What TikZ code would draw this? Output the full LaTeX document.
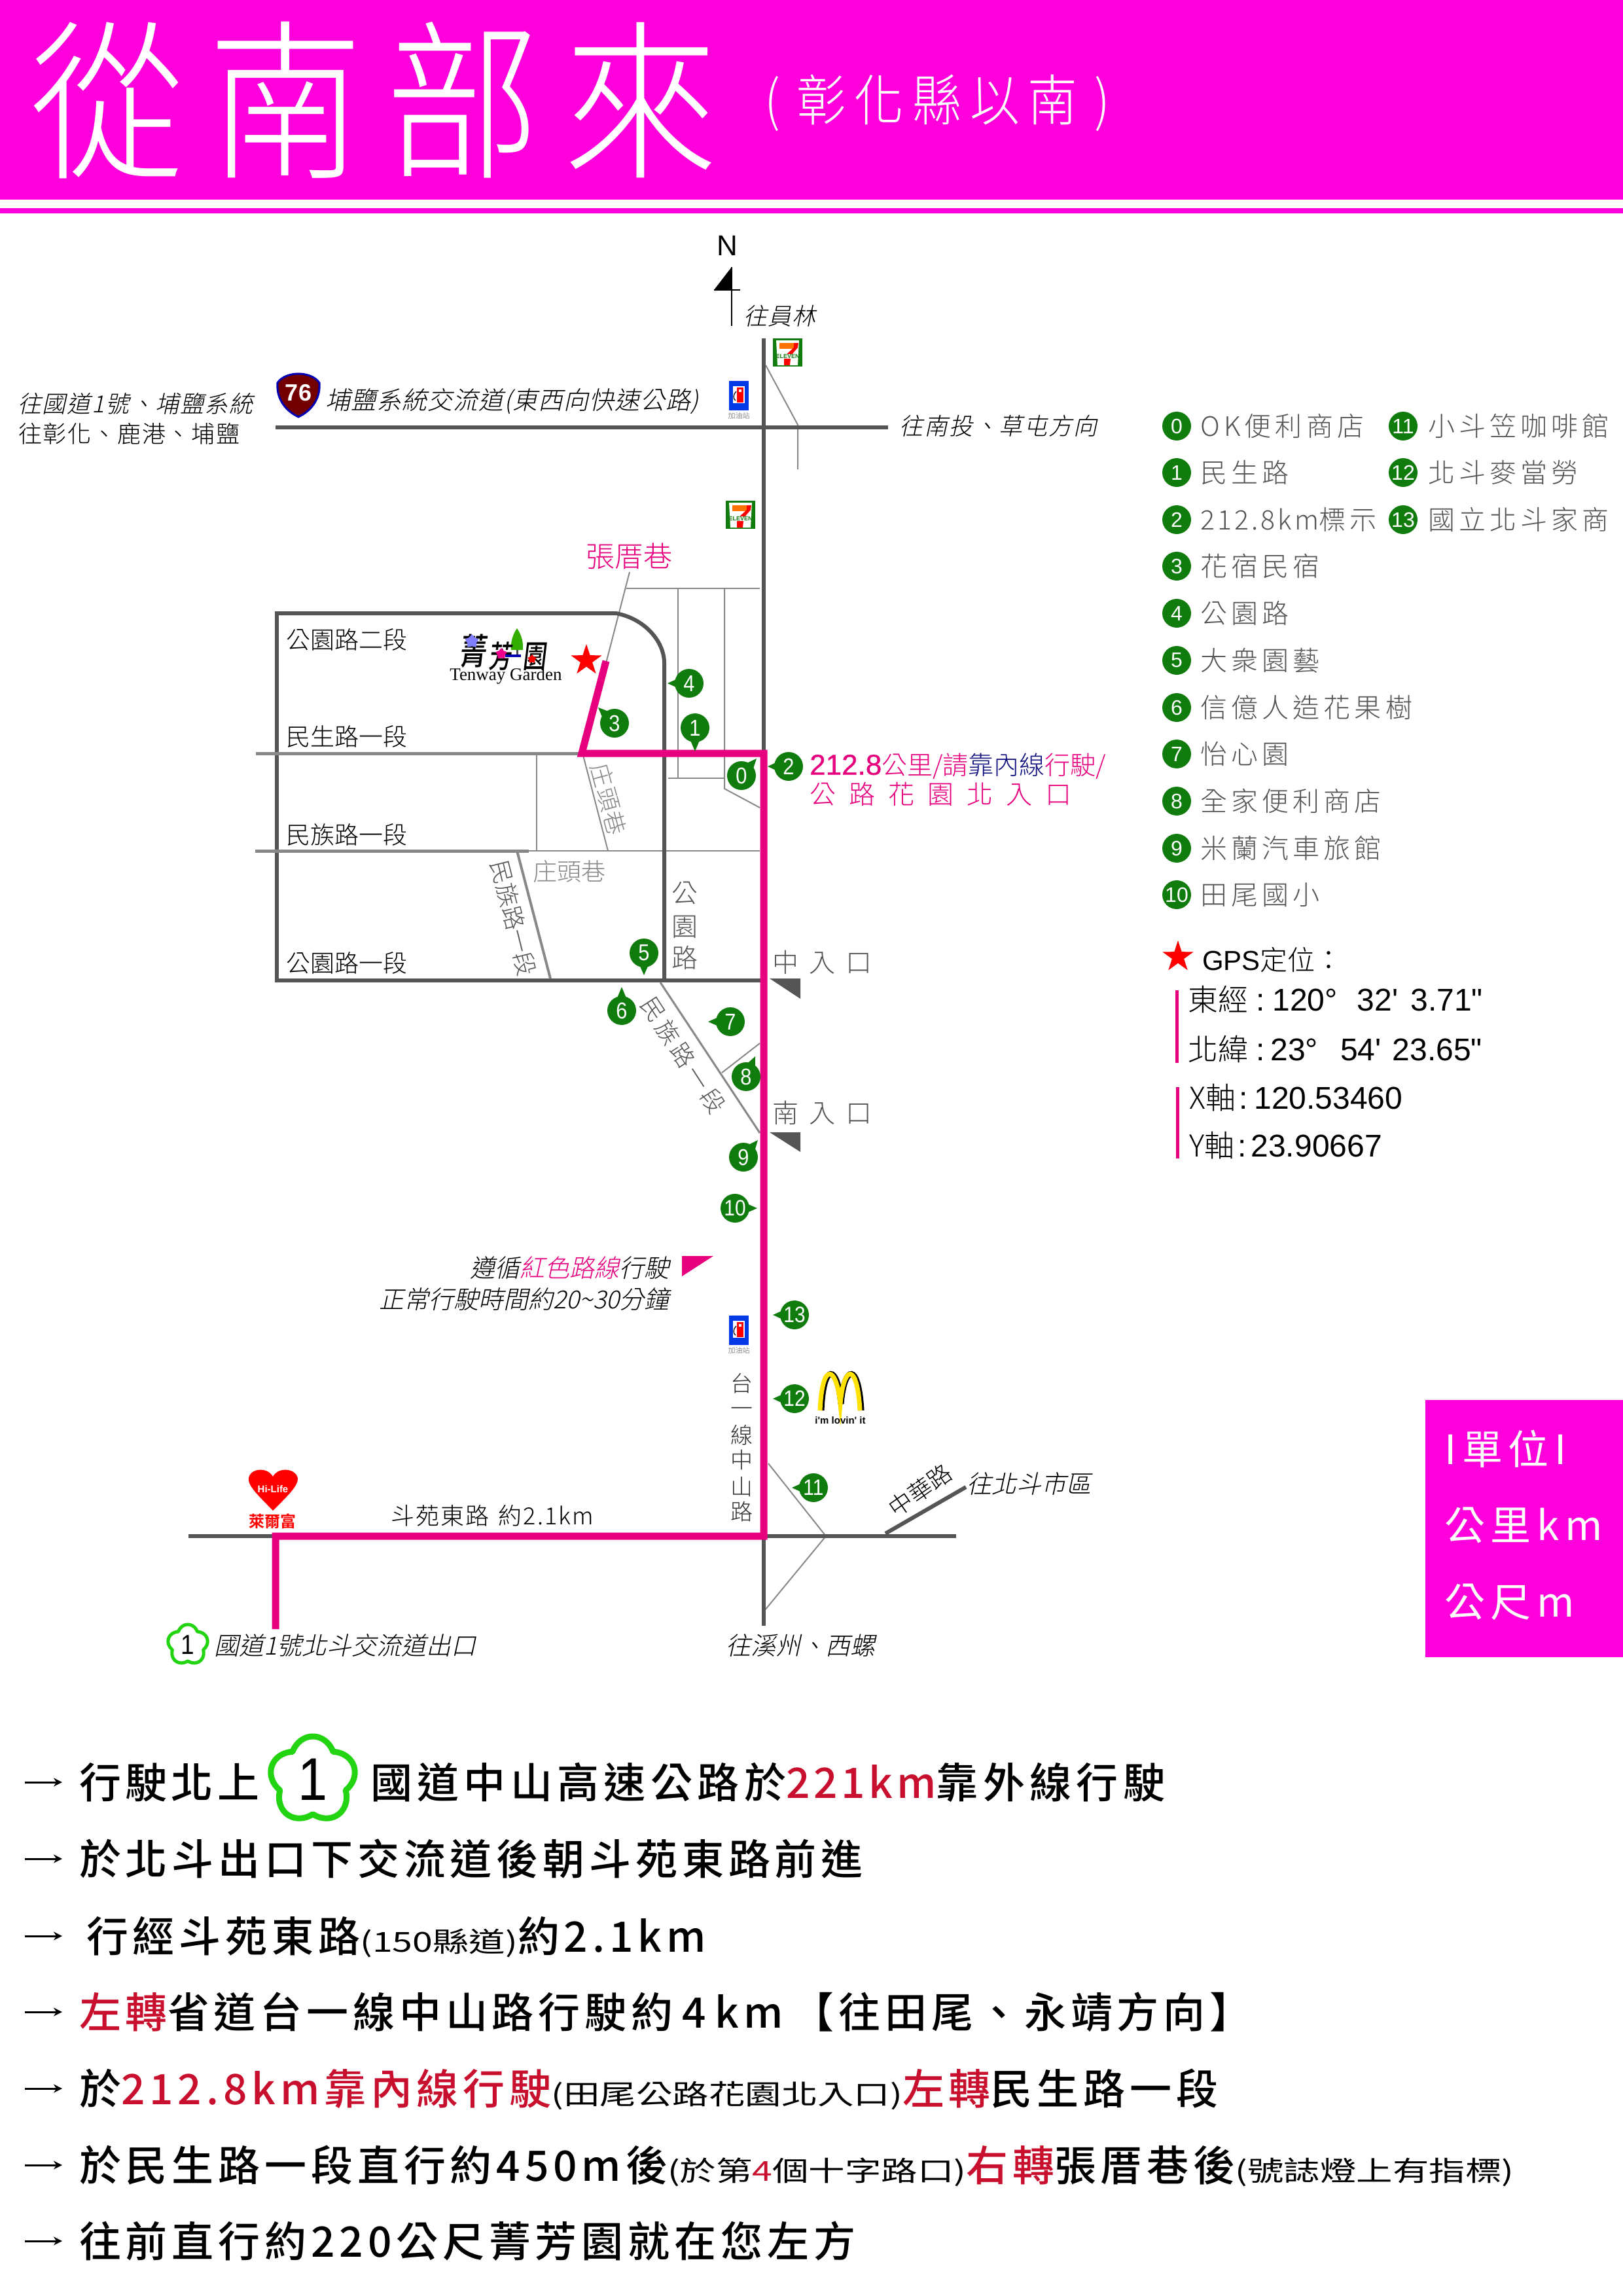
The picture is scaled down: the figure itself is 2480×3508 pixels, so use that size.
\documentclass[tikz,border=0pt]{standalone}
\usepackage{fontspec}
\usetikzlibrary{calc,arrows.meta,shapes.geometric}
\newfontfamily\cjk{Noto Sans CJK TC}
\newfontfamily\cjkl{Noto Sans CJK TC Light}
\newfontfamily\cjkm{Noto Sans CJK TC Medium}
\newfontfamily\cjkb{Noto Sans CJK TC Bold}
\newfontfamily\cjki[FakeSlant=0.22]{Noto Sans CJK TC Light}
\newfontfamily\cjktitle[FakeStretch=0.9]{Noto Sans CJK TC Light}
\newfontfamily\cjksm[FakeStretch=1.32]{Noto Sans CJK TC}
\newfontfamily\cjklogo[FakeSlant=0.12,FakeStretch=0.75]{Noto Sans CJK TC Medium}
\newfontfamily\lsans{Liberation Sans}
\newfontfamily\lsansn[FakeStretch=0.88]{Liberation Sans}
\newfontfamily\lsansh[FakeBold=0.7]{Liberation Sans}
\newfontfamily\lserif{Liberation Serif}
\definecolor{banner}{HTML}{FF00DC}
\definecolor{route}{HTML}{E6007E}
\definecolor{road}{HTML}{555555}
\definecolor{roadb}{HTML}{888888}
\definecolor{pingreen}{HTML}{117C0E}
\definecolor{bodyred}{HTML}{C8102E}
\definecolor{navyb}{HTML}{10107F}
\definecolor{plumg}{HTML}{22D411}
\definecolor{legtext}{HTML}{555555}
\newcommand\lsp[1]{\addfontfeature{LetterSpace=#1}}
\newcounter{tn}
\newcommand\tx[5][]{\stepcounter{tn}\node[txt,text height=0.76*#4pt,text depth=0pt,#1] (t\arabic{tn}) at (#2,#3) {\fontsize{#4pt}{#4pt}\selectfont #5};}
\newcommand\sm[1]{{\fontsize{42pt}{42pt}\selectfont\cjksm #1}}
\newcommand\pin[6]{\node[pinnode] (#1) at (#2,#3) {};\coordinate (#1t) at (#4,#5);
 \fill[pingreen] (#1t) -- ($(#1)!15pt!90:(#1t)$) -- ($(#1)!15pt!-90:(#1t)$) -- cycle;
 \node[pinlabel] (#1l) at (#2,#3) {#6};}
\newcommand\badge[4]{\node[pinnode,text=white,font=\lsans\fontsize{32pt}{32pt}\selectfont] (#1) at (#2,#3) {#4};}
\newcommand\plum[6]{\draw[draw=plumg,fill=white,line width=#5pt,line join=round] plot[domain=0:360,samples=121,smooth] ({#2+#4*(0.80+0.20*abs(cos(2.5*\x)))*sin(\x)},{#3-#4*(0.80+0.20*abs(cos(2.5*\x)))*cos(\x)}) -- cycle;
 \node[inner sep=0pt,font=\lsansn\fontsize{#6pt}{#6pt}\selectfont] (#1) at (#2,#3) {1};}
\newcommand\seven[3]{\begin{scope}[shift={(#2,#3)}]
 \fill[pingreen] (0,0) rectangle (45,43);
 \fill[white] (5,3) -- (40,3) -- (38,41) -- (7,41) -- cycle;
 \fill[orange!90!red] (10,7) rectangle (32,16);
 \fill[red] (32,7) -- (39,7) -- (38,14) -- (27,27) -- (18,27) -- (32,14) -- cycle;
 \fill[white] (8,24) rectangle (37,31);
 \fill[red] (17,31) -- (27,31) -- (26,41) -- (17,41) -- cycle;
 \node[inner sep=0pt,text=pingreen,font=\lsans\bfseries\fontsize{9pt}{9pt}\selectfont] (#1) at (22.5,27.5) {ELEVEN};
 \end{scope}}
\newcommand\gas[3]{\begin{scope}[shift={(#2,#3)}]
 \fill[blue!75!cyan!90!black] (0,0) rectangle (30,45);
 \fill[white] (6,8) rectangle (24,34);
 \fill[red] (12,10) rectangle (22,33);
 \fill[white] (15,13) rectangle (19,17);
 \draw[black,line width=1.2pt] (11,16) .. controls (6,20) and (6,28) .. (10,30);
 \node[inner sep=0pt,text=road,font=\cjkl\fontsize{11pt}{11pt}\selectfont] (#1) at (15,53) {加油站};
 \end{scope}}
\tikzset{
 txt/.style={inner sep=0pt,anchor=west},
 pinnode/.style={circle,fill=pingreen,minimum size=44pt,inner sep=0pt},
 pinlabel/.style={text=white,inner sep=0pt,font=\lsansn\fontsize{35pt}{35pt}\selectfont},
 roadl/.style={draw=road,line width=6pt},
 roadm/.style={draw=roadb,line width=5pt},
 thinl/.style={draw=roadb,line width=2pt},
 routel/.style={draw=route,line width=11pt,line join=miter},
 gotri/.style={fill=road},
 stepa/.style={-{Stealth[length=13pt,width=13pt]},line width=3pt,black},
}
\begin{document}
\begin{tikzpicture}[x=1pt,y=-1pt]
\useasboundingbox (0,0) rectangle (2480,3508);
% banner
\fill[banner] (0,0) rectangle (2480,305);
\fill[banner] (0,318) rectangle (2480,326);
\tx[anchor=center,text=white]{572}{153}{262}{\cjktitle\lsp{13.7}從南部來}
\tx[anchor=center,text=white]{1432}{153}{84}{\cjktitle\lsp{15}(\hspace{26pt}彰化縣以南\hspace{26pt})}
% thin lines
\draw[thinl] (1170,558) -- (1219,649) -- (1219,717);
\draw[thinl] (962,874) -- (926,1013);
\draw[thinl] (957,899) -- (1161,899);
\draw[thinl] (1036,899) -- (1036,1189);
\draw[thinl] (1107,899) -- (1107,1205) -- (1161,1234);
\draw[thinl] (1021,1189) -- (1107,1189);
\draw[thinl] (820,1151) -- (820,1300);
\draw[thinl] (891,1154) -- (929,1300);
\draw[thinl] (808,1300) -- (1161,1300);
\draw[thinl] (1103,1639) -- (1161,1594);
\draw[thinl] (1174,2236) -- (1262,2347) -- (1168,2461);
% roads
\draw[roadl] (421,653) -- (1357,653);
\draw[roadl] (1167,517) -- (1167,1151);
\draw[roadl] (423,937) -- (941,937) .. controls (985,945) and (1015,980) .. (1015,1013) -- (1015,1498);
\draw[roadl] (423,934) -- (423,1501);
\draw[roadl] (420,1498) -- (1167,1498);
\draw[roadm] (391,1151) -- (886,1151);
\draw[roadm] (390,1300) -- (808,1300);
\draw[draw=roadb,line width=4pt] (790,1300) -- (841,1495);
\draw[draw=roadb,line width=3pt] (1009,1501) -- (1161,1731);
\draw[roadl] (288,2347) -- (1461,2347);
\draw[roadl] (1167,2347) -- (1167,2484);
\draw[roadl] (1353,2343) -- (1476,2272);
% route
\draw[routel] (926,1010) -- (889,1151) -- (1167,1151) -- (1167,2347) -- (421,2347) -- (421,2489);
% north arrow
\tx[anchor=center,text=black]{1111}{374}{44}{\lsans N}
\fill[black] (1118,408) -- (1091,443) -- (1118,443) -- cycle;
\draw[line width=2pt] (1091,443) -- (1131,443);
\draw[line width=2pt] (1118,408) -- (1118,498);
% logos
\seven{se1}{1181}{517}
\seven{se2}{1109}{765}
\gas{g1}{1114}{582}
\gas{g2}{1114}{2010}
% shield 76
\draw[draw=blue!70!black,fill=red!45!black,line width=3pt] (424,585) .. controls (430,575) and (445,571) .. (456,571) .. controls (467,571) and (482,575) .. (488,585) .. controls (490,610) and (475,628) .. (456,637) .. controls (437,628) and (422,610) .. (424,585) -- cycle;
\node[inner sep=0pt,text=white,font=\lsans\bfseries\fontsize{36pt}{36pt}\selectfont] (s76) at (456,600) {76};
% map labels
\tx{497}{611}{38}{\cjki\lsp{2.6}埔鹽系統交流道(東西向快速公路)}
\tx{1136}{483}{36}{\cjki\lsp{3}往員林}
\tx{27}{617}{36}{\cjki\lsp{5}往國道1號、埔鹽系統}
\tx{28}{663}{36}{\cjkl\lsp{5}往彰化、鹿港、埔鹽}
\tx{1374}{651}{36}{\cjki\lsp{5.5}往南投、草屯方向}
\tx[text=route]{895}{850}{44}{\cjkl 張厝巷}
\tx{437}{977}{37}{\cjkl 公園路二段}
\tx{437}{1125}{37}{\cjkl 民生路一段}
\tx{437}{1275}{37}{\cjkl 民族路一段}
\tx{437}{1471}{37}{\cjkl 公園路一段}
\tx[anchor=center,rotate=-75,text=roadb]{930}{1221}{36}{\cjkl\lsp{5}庄頭巷}
\tx[text=roadb]{814}{1331}{37}{\cjkl 庄頭巷}
\tx[anchor=center,rotate=-76,text=road]{785}{1403}{36}{\cjkl 民族路一段}
\tx[anchor=center,text=road]{1046}{1364}{40}{\cjkl 公}
\tx[anchor=center,text=road]{1046}{1415}{40}{\cjkl 園}
\tx[anchor=center,text=road]{1046}{1463}{40}{\cjkl 路}
\tx[anchor=center,rotate=-57,text=road]{1044}{1612}{36}{\cjkl\lsp{16}民族路一段}
\tx[anchor=center,text=road]{1200}{1470}{40}{\cjkl 中}
\tx[anchor=center,text=road]{1256}{1470}{40}{\cjkl 入}
\tx[anchor=center,text=road]{1312}{1470}{40}{\cjkl 口}
\tx[anchor=center,text=road]{1200}{1700}{40}{\cjkl 南}
\tx[anchor=center,text=road]{1256}{1700}{40}{\cjkl 入}
\tx[anchor=center,text=road]{1312}{1700}{40}{\cjkl 口}
\fill[gotri] (1176,1495) -- (1223,1495) -- (1223,1526) -- cycle;
\fill[gotri] (1176,1730) -- (1223,1730) -- (1223,1760) -- cycle;
\tx{1237}{1167}{44}{\textcolor{route}{\lsansh 212.8{\fontsize{39pt}{39pt}\selectfont\cjkl 公里/請}}\textcolor{navyb}{\fontsize{39pt}{39pt}\selectfont\cjkl 靠內線}\textcolor{route}{\fontsize{39pt}{39pt}\selectfont\cjkl 行駛/}}
\tx[text=route]{1237}{1213}{40}{\cjkl\lsp{50}公路花園北入口}
% logo Tenway
\fill[green!60!black!80!yellow] (790,960) .. controls (797,970) and (800,982) .. (799,993) -- (781,993) .. controls (780,982) and (783,970) .. (790,960) -- cycle;
\fill[black!70] (789,993) rectangle (792,1003);
\tx[anchor=center]{722}{995}{55}{\cjklogo 菁}
\tx[anchor=center]{764}{1003}{47}{\cjklogo 芳}
\tx[anchor=center]{816}{1002}{48}{\cjklogo 園}
\node[star,fill=blue!50,minimum size=22pt,inner sep=0pt] (lgs) at (721,980) {};
\node[star,fill=magenta,minimum size=18pt,inner sep=0pt] (lgm) at (766,999) {};
\node[star,fill=red,minimum size=14pt,inner sep=0pt] (lgr) at (813,1007) {};
\fill[blue!70!black] (772,1000) rectangle (796,1004);
\node[inner sep=0pt,font=\lserif\fontsize{27pt}{27pt}\selectfont] (lgt) at (773,1033) {Tenway Garden};
% star
\node[star,star points=5,star point ratio=2.6,fill=red,minimum size=50pt,inner sep=0pt] (st1) at (896,1009) {};
% pins
\pin{p0}{1133}{1185}{1156}{1159}{0}
\pin{p1}{1062}{1112}{1062}{1148}{1}
\pin{p2}{1205}{1171}{1173}{1171}{2}
\pin{p3}{939}{1105}{914}{1081}{3}
\pin{p4}{1053}{1044}{1020}{1044}{4}
\pin{p5}{984}{1456}{984}{1490}{5}
\pin{p6}{950}{1544}{950}{1508}{6}
\pin{p7}{1116}{1561}{1082}{1561}{7}
\pin{p8}{1140}{1645}{1154}{1614}{8}
\pin{p9}{1136}{1768}{1158}{1742}{9}
\pin{p10}{1123}{1846}{1157}{1846}{\fontsize{34pt}{34pt}\selectfont 10}
\pin{p13}{1214}{2009}{1181}{2009}{\fontsize{34pt}{34pt}\selectfont 13}
\pin{p12}{1214}{2137}{1181}{2137}{\fontsize{34pt}{34pt}\selectfont 12}
\pin{p11}{1243}{2273}{1210}{2273}{\fontsize{34pt}{34pt}\selectfont 11}
% lower map labels
\tx[anchor=east]{1023}{1937}{38}{\cjki 遵循\textcolor{route}{紅色路線}行駛}
\tx[anchor=east]{1023}{1985}{38}{\cjki 正常行駛時間約20\char"007E 30分鐘}
\fill[route] (1042,1919) -- (1090,1919) -- (1042,1950) -- cycle;
\foreach \c/\y in {台/2114,一/2152,線/2193,中/2231,山/2272,路/2310}{\tx[anchor=center,text=black!80]{1133}{\y}{34}{\cjkl \c}}
\tx{597}{2316}{36}{\cjkl\lsp{6}斗苑東路\hspace{14pt}約2.1km}
\tx[anchor=center,rotate=35]{1406}{2277}{36}{\cjkl 中華路}
\tx{1477}{2267}{38}{\cjki 往北斗市區}
\tx{327}{2514}{38}{\cjki 國道1號北斗交流道出口}
\tx{1109}{2514}{38}{\cjki 往溪州、西螺}
\plum{sh1}{287}{2513}{31}{5}{42}
% McDonald
\draw[black,line width=9pt] (1255,2155) .. controls (1258,2080) and (1280,2085) .. (1285,2145) .. controls (1290,2085) and (1312,2080) .. (1316,2155);
\draw[yellow!85!orange,line width=7pt] (1253,2155) .. controls (1256,2080) and (1278,2085) .. (1284,2145) .. controls (1289,2085) and (1310,2080) .. (1314,2155);
\node[inner sep=0pt,font=\lsans\bfseries\fontsize{15pt}{15pt}\selectfont] (mc) at (1284,2170) {i'm lovin' it};
% Hi-Life
\fill[red] (417,2308) .. controls (395,2285) and (378,2270) .. (380,2258) .. controls (382,2244) and (408,2240) .. (417,2256) .. controls (426,2240) and (452,2244) .. (455,2258) .. controls (456,2270) and (440,2285) .. (417,2308) -- cycle;
\node[inner sep=0pt,text=white,font=\lsans\bfseries\fontsize{15pt}{15pt}\selectfont] (hl) at (417,2275) {Hi-Life};
\tx[anchor=center,text=red]{416}{2324}{24}{\cjkb 萊爾富}
% legend
\foreach \n/\y/\t in {0/651/OK便利商店,1/722/民生路,2/794/{\lsp{10}212.8km}標示,3/865/花宿民宿,4/937/公園路,5/1009/大衆園藝,6/1081/信億人造花果樹,7/1152/怡心園,8/1224/全家便利商店,9/1296/米蘭汽車旅館,10/1367/田尾國小}{
 \badge{b\n}{1798}{\y}{\n}
 \tx[text=legtext]{1834}{\y}{41}{\cjkl\lsp{15}\t}}
\foreach \n/\y/\t in {11/651/小斗笠咖啡館,12/722/北斗麥當勞,13/794/國立北斗家商}{
 \badge{b\n}{2144}{\y}{\n}
 \tx[text=legtext]{2182}{\y}{41}{\cjkl\lsp{15}\t}}
% GPS
\node[star,star points=5,star point ratio=2.6,fill=red,minimum size=50pt,inner sep=0pt] (st2) at (1800,1462) {};
\tx{1837}{1467}{42}{\lsans GPS\cjkl 定位：}
\draw[draw=route,line width=5pt] (1798.5,1513) -- (1798.5,1624);
\draw[draw=route,line width=5pt] (1799.5,1661) -- (1799.5,1770);
\tx{1815}{1527}{46}{\cjkl 東經\hspace{12pt}\fontsize{48pt}{48pt}\selectfont\lsans :\hspace{12pt}120°\hspace{30pt}32'\hspace{19pt}3.71"}
\tx{1815}{1603}{46}{\cjkl 北緯\hspace{12pt}\fontsize{48pt}{48pt}\selectfont\lsans :\hspace{9pt}23°\hspace{34pt}54'\hspace{17pt}23.65"}
\tx{1817}{1677}{46}{\cjkl X軸\hspace{5pt}\fontsize{48pt}{48pt}\selectfont\lsans :\hspace{10pt}120.53460}
\tx{1817}{1750}{46}{\cjkl Y軸\hspace{5pt}\fontsize{48pt}{48pt}\selectfont\lsans :\hspace{7pt}23.90667}
% unit box
\fill[banner] (2178,2139) rectangle (2480,2532);
\tx[text=white]{2207}{2214}{62}{\cjk\lsp{14}I單位I}
\tx[text=white]{2207}{2330}{62}{\cjk\lsp{14}公里km}
\tx[text=white]{2207}{2447}{62}{\cjk\lsp{14}公尺m}
% directions
\foreach \n/\y in {a/2723,b/2840,c/2958,d/3074,e/3191,f/3308,g/3424}{
 \coordinate (sa\n) at (38,\y);\coordinate (sb\n) at (95,\y);\draw[stepa] (sa\n) -- (sb\n);}
\tx{121}{2723}{64}{\cjkm\lsp{10}行駛北上}
\plum{sh2}{478}{2719}{66}{9}{92}
\tx{566}{2723}{64}{\cjkm\lsp{11.5}國道中山高速公路於\textcolor{bodyred}{\lsp{9}221km}靠外線行駛}
\tx{121}{2840}{64}{\cjkm\lsp{10.7}於北斗出口下交流道後朝斗苑東路前進}
\tx{132}{2958}{64}{\cjkm\lsp{10.7}行經斗苑東路\sm{(150縣道)}約2.1km}
\tx{121}{3074}{64}{\cjkm\lsp{10.7}\textcolor{bodyred}{左轉}省道台一線中山路行駛約\hspace{14pt}4\hspace{14pt}km\hspace{14pt}【往田尾、永靖方向】}
\tx{121}{3191}{64}{\cjkm\lsp{10.7}於\textcolor{bodyred}{212.8km靠內線行駛}\sm{(田尾公路花園北入口)}\textcolor{bodyred}{左轉}民生路一段}
\tx{121}{3308}{64}{\cjkm\lsp{10.7}於民生路一段直行約450m後\sm{(於第\textcolor{bodyred}{4}個十字路口)}\textcolor{bodyred}{右轉}張厝巷後\sm{(號誌燈上有指標)}}
\tx{121}{3424}{64}{\cjkm\lsp{10.7}往前直行約220公尺菁芳園就在您左方}
\end{tikzpicture}
\end{document}
